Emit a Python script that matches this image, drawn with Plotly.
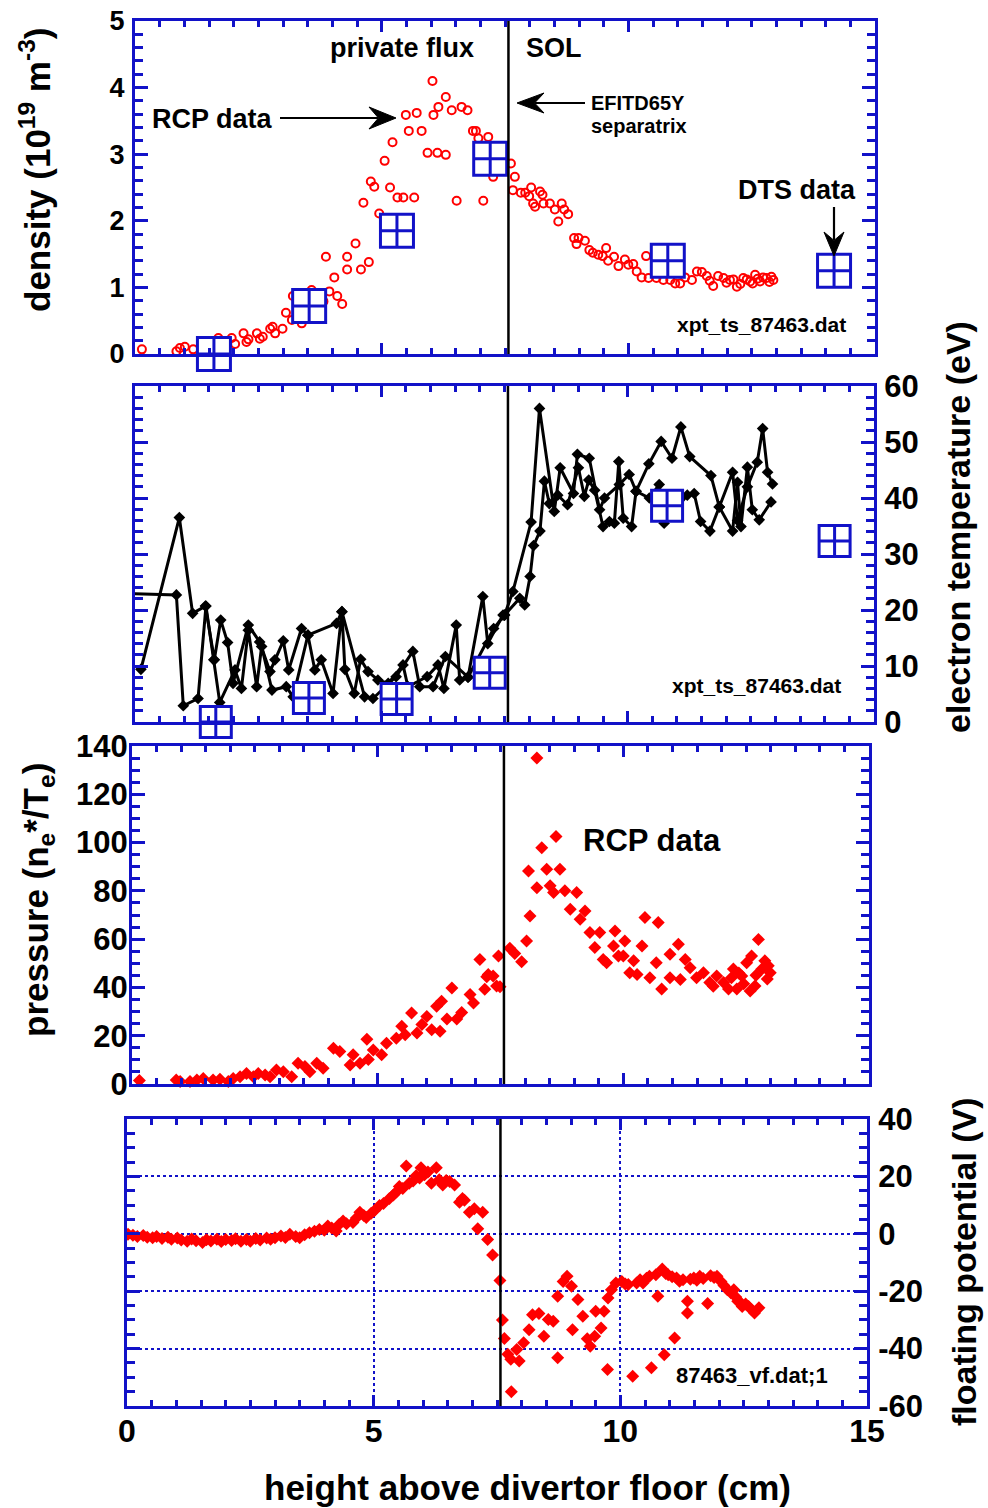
import math
import plotly.graph_objects as go

# ---------------- data ----------------
# Panel 1: RCP density (10^19 m^-3) vs height (cm)
dens_x = [0.14, 0.84, 0.91, 1.01, 1.18, 1.69, 1.96, 2.03, 2.20, 2.26, 2.30, 2.47, 2.53, 2.59, 2.74,
          2.79, 2.84, 2.99, 3.06, 3.18, 3.20, 3.28, 3.38, 3.58, 3.82, 3.87, 3.94, 4.04, 4.10, 4.20,
          4.30, 4.30, 4.47, 4.58, 4.63, 4.74, 4.78, 4.85, 4.95, 5.06, 5.17, 5.22, 5.32, 5.44, 5.49,
          5.55, 5.66, 5.71, 5.81, 5.93, 6.03, 6.05, 6.13, 6.15, 6.30, 6.30, 6.42, 6.52, 6.62, 6.74,
          6.85, 6.91, 6.96, 7.06, 7.16, 7.26, 7.62, 7.66, 7.70, 7.82, 7.91, 7.99, 8.03, 8.07, 8.11,
          8.21, 8.26, 8.28, 8.41, 8.51, 8.58, 8.65, 8.70, 8.78, 8.90, 8.95, 8.99, 9.12, 9.21, 9.28,
          9.39, 9.48, 9.55, 9.59, 9.71, 9.80, 9.93, 10.00, 10.10, 10.17, 10.27, 10.36, 10.41, 10.57, 10.71,
          10.85, 10.95, 11.05, 11.15, 11.29, 11.39, 11.49, 11.59, 11.72, 11.82, 11.93, 12.06, 12.20, 12.33, 12.47,
          12.57, 12.67, 12.80, 12.94, 11.65, 11.99, 12.13, 12.27, 12.40, 12.52, 12.62, 12.73, 12.86, 12.90]
dens_y = [0.07, 0.04, 0.09, 0.11, 0.07, 0.24, 0.24, 0.15, 0.31, 0.18, 0.22, 0.31, 0.23, 0.26, 0.38,
          0.41, 0.31, 0.38, 0.62, 0.51, 0.87, 0.91, 0.46, 0.96, 0.79, 1.46, 0.94, 1.15, 0.87, 0.75,
          1.46, 1.27, 1.66, 1.27, 2.27, 1.38, 2.59, 2.51, 2.11, 2.90, 2.50, 3.18, 2.35, 2.35, 3.59,
          3.35, 2.35, 3.62, 3.35, 3.02, 4.10, 3.59, 3.02, 3.71, 3.86, 2.99, 3.66, 2.30, 3.71, 3.66,
          3.35, 3.35, 3.24, 2.30, 3.26, 2.66, 2.86, 2.46, 2.66, 2.42, 2.42, 2.37, 2.50, 2.26, 2.21,
          2.44, 2.39, 2.26, 2.26, 2.17, 1.99, 2.26, 2.17, 2.10, 1.74, 1.65, 1.74, 1.70, 1.56, 1.52,
          1.49, 1.47, 1.59, 1.40, 1.46, 1.32, 1.42, 1.34, 1.35, 1.24, 1.15, 1.47, 1.14, 1.14, 1.11,
          1.11, 1.06, 1.06, 1.15, 1.11, 1.24, 1.23, 1.17, 1.02, 1.17, 1.14, 1.11, 1.01, 1.14, 1.09,
          1.19, 1.09, 1.14, 1.11, 1.10, 1.07, 1.12, 1.05, 1.12, 1.06, 1.13, 1.15, 1.08, 1.16]

# DTS density points
dts_ne_x = [1.60, 3.53, 5.31, 7.20, 10.80, 14.17]
dts_ne_y = [0.00, 0.72, 1.85, 2.93, 1.40, 1.25]

# Panel 2: electron temperature (eV), two RCP plunges
teA_x = [0.12, 0.90, 1.17, 1.43, 1.61, 1.74, 1.88, 1.99, 2.30, 2.53, 2.74, 2.84, 3.01, 3.12, 3.38,
         3.51, 3.65, 3.78, 4.02, 4.20, 4.26, 4.45, 4.58, 4.73, 4.93, 5.14, 5.44, 5.54, 5.93, 6.15,
         6.27, 6.52, 6.59, 6.76, 7.28, 7.50, 7.67, 8.04, 8.21, 8.51, 8.63, 8.90, 8.98, 9.22, 9.43,
         9.53, 9.83, 10.03, 10.17, 10.43, 10.68, 10.90, 11.08, 11.26, 11.69, 11.86, 12.13, 12.23, 12.43, 12.63,
         12.74, 12.84, 12.94]
teA_y = [9.4, 36.5, 19.4, 20.7, 11.1, 18.2, 14.2, 6.9, 17.3, 14.3, 9.0, 11.1, 14.5, 9.3, 16.7,
         15.5, 9.3, 11.1, 5.1, 19.7, 9.4, 5.1, 11.2, 9.0, 7.5, 6.9, 10.2, 6.3, 8.1, 10.2,
         6.0, 17.3, 7.5, 8.0, 16.7, 19.1, 23.3, 35.7, 56.0, 37.6, 45.4, 40.8, 47.8, 47.1, 37.9,
         40.0, 42.4, 44.2, 41.2, 46.1, 50.1, 47.1, 52.7, 47.4, 44.0, 38.4, 44.6, 36.0, 42.0, 46.4,
         52.4, 44.6, 42.5]
teB_x = [-0.30, 0.84, 0.98, 1.28, 1.44, 1.60, 1.72, 2.03, 2.16, 2.30, 2.47, 2.57, 2.78, 3.07, 3.21,
         3.51, 4.09, 4.20, 4.66, 4.83, 5.30, 5.64, 5.78, 6.05, 6.30, 6.76, 7.06, 7.16, 7.47, 7.50,
         7.81, 7.91, 8.02, 8.09, 8.22, 8.31, 8.41, 8.58, 8.78, 9.00, 9.12, 9.21, 9.33, 9.50, 9.63,
         9.73, 9.82, 9.91, 10.08, 10.17, 10.44, 10.64, 10.74, 11.21, 11.35, 11.48, 11.67, 11.86, 12.13, 12.23,
         12.30, 12.43, 12.53, 12.67, 12.91]
teB_y = [23.0, 22.7, 2.9, 4.2, 20.7, 11.1, 3.5, 9.3, 6.0, 16.4, 6.3, 13.5, 5.7, 6.3, 4.5,
         15.5, 17.6, 19.7, 4.5, 4.2, 8.1, 12.6, 6.3, 6.3, 11.7, 8.0, 22.4, 14.0, 19.1, 19.1,
         22.1, 20.9, 26.0, 31.5, 34.1, 43.0, 39.0, 40.5, 38.8, 45.4, 40.3, 43.2, 41.4, 34.9, 35.8,
         35.5, 46.5, 36.4, 34.9, 41.2, 40.0, 42.4, 35.5, 40.5, 40.8, 35.8, 34.1, 38.4, 34.1, 42.8,
         34.9, 45.5, 37.9, 36.1, 39.3]

# DTS temperature points
dts_te_x = [1.64, 3.53, 5.31, 7.20, 10.80, 14.20]
dts_te_y = [0.0, 4.3, 4.1, 8.8, 38.6, 32.3]

# Panel 3: pressure
pres_x = [0.15, 0.90, 0.98, 1.18, 1.32, 1.45, 1.65, 1.79, 1.96, 2.06, 2.20, 2.33, 2.47, 2.57, 2.71,
          2.81, 2.94, 3.08, 3.25, 3.38, 3.52, 3.62, 3.76, 3.89, 4.10, 4.23, 4.44, 4.50, 4.64, 4.78,
          4.81, 4.91, 5.08, 5.18, 5.38, 5.49, 5.56, 5.69, 5.80, 5.90, 6.00, 6.10, 6.20, 6.27, 6.30,
          6.41, 6.51, 6.61, 6.71, 6.88, 6.95, 7.08, 7.18, 7.25, 7.35, 7.46, 7.42, 7.22, 7.49, 7.69,
          7.79, 7.93, 8.03, 8.10, 8.24, 8.07, 8.24, 8.34, 8.44, 8.51, 8.63, 8.71, 8.58, 8.81, 9.05,
          8.92, 9.12, 9.22, 9.32, 9.42, 9.52, 9.59, 9.66, 9.83, 9.80, 9.90, 10.03, 10.00, 10.21, 10.13,
          10.38, 10.28, 10.44, 10.71, 10.54, 10.67, 10.78, 10.95, 10.95, 11.12, 11.16, 11.26, 11.36, 11.49, 11.63,
          11.76, 11.90, 12.04, 12.14, 12.24, 12.31, 12.41, 12.51, 12.61, 12.68, 12.75, 12.82, 12.88, 12.99, 12.20,
          12.45, 12.70, 12.93, 12.35, 11.83, 12.58, 12.95]
pres_y = [1.4, 1.7, 1.0, 1.0, 1.7, 2.3, 1.7, 2.0, 1.0, 2.3, 3.0, 4.4, 3.0, 4.4, 3.7,
          3.0, 5.8, 5.1, 3.0, 8.6, 7.2, 5.1, 8.6, 6.5, 14.8, 13.5, 7.9, 12.1, 8.6, 18.5,
          10.1, 14.1, 12.1, 16.9, 19.0, 23.9, 20.4, 29.4, 21.1, 24.6, 28.0, 22.5, 32.2, 21.8, 34.3,
          26.9, 39.8, 26.9, 29.6, 37.1, 33.6, 51.6, 39.2, 45.4, 44.7, 53.0, 40.6, 44.4, 40.3, 56.2,
          54.1, 50.6, 59.2, 69.6, 135.0, 88.2, 81.3, 97.9, 89.0, 82.1, 102.5, 89.0, 79.3, 80.0, 79.3,
          72.4, 68.2, 71.7, 62.7, 56.5, 62.7, 51.6, 50.2, 63.4, 57.2, 53.0, 59.2, 53.0, 51.0, 46.1,
          57.2, 45.4, 69.0, 66.9, 44.0, 50.2, 39.3, 44.0, 53.7, 57.9, 43.3, 51.6, 48.1, 44.0, 46.1,
          42.0, 44.7, 42.0, 39.3, 47.6, 39.3, 44.7, 50.2, 53.0, 40.6, 59.9, 47.6, 51.0, 46.1, 44.0,
          41.5, 45.0, 43.5, 46.0, 40.5, 38.5, 49.0]

# Panel 4: floating potential (V)
vf_x = [0.02, 0.12, 0.21, 0.33, 0.41, 0.52, 0.60, 0.71, 0.83, 0.90, 1.02, 1.10, 1.22, 1.31, 1.40,
        1.53, 1.61, 1.70, 1.82, 1.91, 2.00, 2.12, 2.20, 2.31, 2.42, 2.50, 2.61, 2.70, 2.83, 2.91,
        3.00, 3.12, 3.21, 3.30, 3.42, 3.50, 3.60, 3.70, 3.80, 3.90, 4.00, 4.07, 4.15, 4.24, 4.30,
        4.38, 4.45, 4.58, 4.65, 4.72, 4.80, 4.85, 4.95, 5.02, 5.12, 5.20, 5.32, 5.40, 5.46, 5.52,
        5.59, 5.66, 5.72, 5.80, 5.86, 5.93, 5.96, 6.03, 6.10, 6.17, 6.27, 6.33, 6.40, 6.47, 6.54,
        6.64, 6.74, 6.80, 6.84, 6.94, 7.04, 7.11, 7.21, 7.31, 7.41, 7.56, 7.61, 7.65, 7.72, 7.78,
        7.79, 7.90, 7.95, 8.04, 8.15, 8.22, 8.35, 8.45, 8.54, 8.64, 8.73, 8.73, 8.84, 8.92, 9.01,
        9.03, 9.14, 9.24, 9.33, 9.39, 9.48, 9.50, 9.61, 9.67, 9.74, 9.75, 9.82, 9.91, 10.03, 10.10,
        10.16, 10.25, 10.33, 10.40, 10.46, 10.53, 10.59, 10.63, 10.72, 10.76, 10.85, 10.89, 10.92, 10.97, 11.05,
        11.10, 11.14, 11.20, 11.27, 11.36, 11.36, 11.42, 11.49, 11.55, 11.61, 11.68, 11.77, 11.83, 11.90, 11.96,
        12.04, 12.10, 12.17, 12.24, 12.30, 12.34, 12.38, 12.44, 12.47, 12.54, 12.60, 12.66, 12.72, 12.81]
vf_y = [-0.2, -0.5, -0.9, -0.6, -1.2, -1.4, -0.9, -1.6, -1.2, -1.9, -1.5, -2.2, -2.6, -1.8, -2.4,
        -3.0, -2.1, -2.5, -1.9, -2.7, -2.0, -2.3, -1.7, -2.6, -2.0, -2.6, -1.6, -2.2, -1.5, -1.9,
        -1.4, -0.8, -1.3, -0.2, -0.9, -1.4, -0.3, 0.4, 0.9, 1.5, 1.2, 2.7, 2.0, 1.0, 3.2,
        4.5, 3.5, 3.9, 5.5, 7.5, 6.4, 5.7, 7.2, 8.1, 9.9, 10.6, 12.3, 13.5, 14.6, 16.5,
        15.8, 23.6, 17.6, 18.4, 20.2, 19.4, 23.0, 20.6, 21.5, 17.6, 23.0, 18.8, 17.0, 18.6, 18.2,
        17.0, 11.0, 12.3, 11.7, 7.5, 8.7, 1.8, 7.5, -2.0, -7.4, -16.3, -30.0, -36.5, -42.0, -43.7,
        -55.0, -40.3, -44.3, -38.0, -33.4, -28.2, -27.8, -35.7, -29.9, -30.5, -43.2, -21.8, -16.6, -14.8, -18.3,
        -33.4, -22.9, -28.7, -36.6, -39.2, -35.7, -27.0, -32.8, -27.0, -47.3, -22.4, -19.5, -17.1, -16.6, -17.5,
        -17.7, -49.6, -17.1, -16.0, -17.1, -15.5, -14.8, -46.7, -14.3, -21.8, -12.3, -42.1, -13.8, -14.3, -15.0,
        -36.3, -15.4, -16.5, -16.0, -23.5, -27.6, -15.8, -15.4, -16.2, -14.8, -15.6, -24.3, -14.6, -15.2, -14.8,
        -16.6, -18.0, -19.5, -20.5, -19.5, -22.0, -23.5, -24.0, -25.3, -24.5, -25.3, -26.5, -27.6, -25.8]

SEPARATRIX_CM = 7.57
x_ticks = [0, 5, 10, 15]
vf_ticks = [-60, -40, -20, 0, 20, 40]
vf_ticktext = ["-60", "-40", "-20", "0", "20", "40"]

assert len(dens_x) == len(dens_y)
assert len(teA_x) == len(teA_y) and len(teB_x) == len(teB_y)
assert len(pres_x) == len(pres_y)
assert len(vf_x) == len(vf_y)

# ---------------- style ----------------
W, H = 988, 1508
BLUE = "#1212C8"
RED = "#FF0000"
FONT = "Liberation Sans, Arial, Helvetica, sans-serif"


def fx(p):
    return p / W


def fy(p):
    return 1 - p / H


fig = go.Figure()

# Panel 1
fig.add_trace(go.Scatter(x=dens_x, y=dens_y, mode="markers", xaxis="x", yaxis="y",
                         marker=dict(symbol="circle-open", size=8, color=RED, line=dict(width=2, color=RED))))
fig.add_trace(go.Scatter(x=dts_ne_x, y=dts_ne_y, mode="markers", xaxis="x", yaxis="y", cliponaxis=False,
                         marker=dict(symbol="square-cross", size=33, color="white", line=dict(width=3, color=BLUE))))
# Panel 2
for tx, ty in ((teA_x, teA_y), (teB_x, teB_y)):
    fig.add_trace(go.Scatter(x=tx, y=ty, mode="lines+markers", xaxis="x2", yaxis="y2",
                             line=dict(color="black", width=3),
                             marker=dict(symbol="diamond", size=9, color="black")))
fig.add_trace(go.Scatter(x=dts_te_x, y=dts_te_y, mode="markers", xaxis="x2", yaxis="y2", cliponaxis=False,
                         marker=dict(symbol="square-cross", size=31, color="white", line=dict(width=3, color=BLUE))))
# Panel 3
fig.add_trace(go.Scatter(x=pres_x, y=pres_y, mode="markers", xaxis="x3", yaxis="y3", cliponaxis=False,
                         marker=dict(symbol="diamond", size=10, color=RED, line=dict(width=0))))
# Panel 4
fig.add_trace(go.Scatter(x=vf_x, y=vf_y, mode="markers", xaxis="x4", yaxis="y4",
                         marker=dict(symbol="diamond", size=10, color=RED, line=dict(width=0))))


def xax(l, r, anchor, labels=False, grid=False):
    return dict(domain=[fx(l), fx(r)], anchor=anchor, range=[0, 15], showline=True, linecolor=BLUE,
                linewidth=3, mirror="allticks", ticks="inside", ticklen=11, tickwidth=2.5,
                tickcolor=BLUE, tickmode="array", tickvals=x_ticks, showticklabels=labels,
                tickfont=dict(family=FONT, size=32, color="black", weight="bold"),
                ticklabelstandoff=-5,
                showgrid=grid, gridcolor=BLUE, gridwidth=2, griddash="dot", zeroline=False,
                minor=dict(tick0=0, dtick=0.5, ticks="inside", ticklen=6, tickwidth=2.5,
                           tickcolor=BLUE, showgrid=False))


def yax(top, bot, anchor, rng, dtick, mdtick, side, size, standoff, grid=False):
    return dict(domain=[fy(bot), fy(top)], anchor=anchor, range=rng, side=side, showline=True,
                linecolor=BLUE, linewidth=3, mirror="allticks", ticks="inside", ticklen=13,
                tickwidth=2.5, tickcolor=BLUE, tick0=rng[0], dtick=dtick,
                tickfont=dict(family=FONT, size=size, color="black", weight="bold"),
                ticklabelstandoff=standoff,
                showgrid=grid, gridcolor=BLUE, gridwidth=2, griddash="dot", zeroline=False,
                minor=dict(tick0=rng[0], dtick=mdtick, ticks="inside", ticklen=8, tickwidth=2.5,
                           tickcolor=BLUE, showgrid=False))


ann = []


def txt(t, x, y, size, angle=0, xanchor="center"):
    ann.append(dict(text=t, x=fx(x), y=fy(y), xref="paper", yref="paper", showarrow=False,
                    textangle=angle, xanchor=xanchor, yanchor="middle",
                    font=dict(family=FONT, size=size, color="black", weight="bold")))


shapes = []


def arrow(tail, tip, head_len, half_w):
    (tx, ty), (hx, hy) = tail, tip
    d = math.hypot(hx - tx, hy - ty)
    ux, uy = (hx - tx) / d, (hy - ty) / d
    nx, ny = -uy, ux
    bx, by = hx - ux * head_len, hy - uy * head_len
    notch = (hx - ux * head_len * 0.65, hy - uy * head_len * 0.65)
    p1 = (bx + nx * half_w, by + ny * half_w)
    p2 = (bx - nx * half_w, by - ny * half_w)
    shapes.append(dict(type="line", xref="paper", yref="paper", x0=fx(tx), y0=fy(ty),
                       x1=fx(notch[0]), y1=fy(notch[1]), line=dict(color="black", width=2.2)))
    pts = [(hx, hy), p1, notch, p2]
    path = "M " + " L ".join(f"{fx(a):.5f},{fy(b):.5f}" for a, b in pts) + " Z"
    shapes.append(dict(type="path", xref="paper", yref="paper", path=path,
                       fillcolor="black", line=dict(color="black", width=1)))


txt("private flux", 402, 48, 27)
txt("SOL", 554, 48, 27)
txt("RCP data", 212, 119, 27)
arrow((280, 118), (396, 118), 27, 11)
txt("EFITD65Y", 589, 103, 20, xanchor="left")
txt("separatrix", 589, 126, 20, xanchor="left")
arrow((585, 103), (517, 103), 27, 10)
txt("DTS data", 797, 190, 27)
arrow((834, 207), (834, 256), 24, 10)
txt("xpt_ts_87463.dat", 848, 324, 21, xanchor="right")
txt("xpt_ts_87463.dat", 843, 685, 21, xanchor="right")
txt("RCP data", 652, 840, 31)
txt("87463_vf.dat;1", 830, 1375, 22, xanchor="right")
txt("density (10<sup>19</sup> m<sup>-3</sup>)", 35, 170, 35, angle=-90)
txt("electron temperature (eV)", 958, 527, 34, angle=-90)
txt("pressure (n<sub>e</sub>*/T<sub>e</sub>)", 38, 900, 35, angle=-90)
txt("floating potential (V)", 964, 1262, 34, angle=-90)
txt("height above divertor floor (cm)", 527, 1487, 35)

for xr, yr in (("x", "y"), ("x2", "y2"), ("x3", "y3"), ("x4", "y4")):
    shapes.append(dict(type="line", xref=xr, yref=yr + " domain", x0=SEPARATRIX_CM, x1=SEPARATRIX_CM,
                       y0=0, y1=1, line=dict(color="black", width=2.5)))

y4 = yax(1119, 1406, "x4", [-60, 40], 20, 5, "right", 31, 2, grid=True)
y4.update(tickmode="array", tickvals=vf_ticks, ticktext=vf_ticktext)

fig.update_layout(
    template="none",
    width=W, height=H, margin=dict(l=0, r=0, t=0, b=0),
    paper_bgcolor="white", plot_bgcolor="white", showlegend=False,
    font=dict(family=FONT, color="black"),
    xaxis=xax(135, 875, "y"),
    yaxis=yax(21, 354, "x", [0, 5], 1, 0.2, "left", 27, 2),
    xaxis2=xax(135, 874, "y2"),
    yaxis2=yax(386, 722, "x2", [0, 60], 10, 2, "right", 31, 1),
    xaxis3=xax(132, 869, "y3"),
    yaxis3=yax(746, 1084, "x3", [0, 140], 20, 5, "left", 31, -5),
    xaxis4=xax(127, 867, "y4", labels=True, grid=True),
    yaxis4=y4,
    annotations=ann,
    shapes=shapes,
)

fig.write_html("out.html", config={"displayModeBar": False},
               post_script="document.body.style.margin='0';document.body.style.overflow='hidden';")
